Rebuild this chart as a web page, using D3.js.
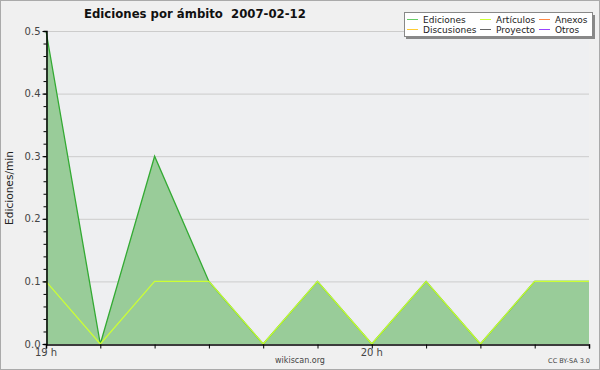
<!DOCTYPE html>
<html>
<head>
<meta charset="utf-8">
<script src="https://cdn.jsdelivr.net/npm/d3@7"></script>
<style>
  body { margin: 0; background: #fff; }
  text { font-family: "DejaVu Sans", sans-serif; }
</style>
</head>
<body>
<svg width="600" height="370"></svg>
<script>
// 10 minute buckets, 19:00 .. 20:40
var times = ["19:00", "19:10", "19:20", "19:30", "19:40", "19:50", "20:00", "20:10", "20:20", "20:30", "20:40"];
var ediciones = [0.5, 0.0, 0.3, 0.1, 0.0, 0.1, 0.0, 0.1, 0.0, 0.1, 0.1];
var articulos = [0.1, 0.0, 0.1, 0.1, 0.0, 0.1, 0.0, 0.1, 0.0, 0.1, 0.1];
var yTicks = [0.0, 0.1, 0.2, 0.3, 0.4, 0.5];
var xLabels = [["19:00", "19 h"], ["20:00", "20 h"]];
var legend = [
  {name: "Ediciones", color: "#66cc66"},
  {name: "Discusiones", color: "#ffcc33"},
  {name: "Artículos", color: "#ccff33"},
  {name: "Proyecto", color: "#666666"},
  {name: "Anexos", color: "#ff8844"},
  {name: "Otros", color: "#9944ff"}
];

var parse = d3.timeParse("%Y-%m-%d %H:%M");
function day(t) { return parse("2007-02-12 " + t); }

var margin = {top: 31, bottom: 26, left: 46, right: 11};
var width = 600, height = 370;

var svg = d3.select("svg");

svg.append("rect")
  .attr("x", 0.5).attr("y", 0.5)
  .attr("width", width - 1).attr("height", height - 1)
  .attr("fill", "#f0f0f0").attr("stroke", "#aaaaaa");

var x = d3.scaleTime()
  .domain([day(times[0]), day(times[times.length - 1])])
  .range([margin.left, width - margin.right]);

var y = d3.scaleLinear()
  .domain([0, 0.5])
  .range([height - margin.bottom, margin.top]);

svg.append("rect")
  .attr("x", x.range()[0]).attr("y", y.range()[1])
  .attr("width", x.range()[1] - x.range()[0])
  .attr("height", y.range()[0] - y.range()[1])
  .attr("fill", "#eeeff1");

// grid
svg.selectAll(".grid").data(yTicks.slice(1)).enter().append("line")
  .attr("x1", x.range()[0]).attr("x2", x.range()[1])
  .attr("y1", function(d) { return y(d) + 0.5; })
  .attr("y2", function(d) { return y(d) + 0.5; })
  .attr("stroke", "#cccccc");

var edData = times.map(function(t, i) { return {date: day(t), v: ediciones[i]}; });
var arData = times.map(function(t, i) { return {date: day(t), v: articulos[i]}; });

var area = d3.area()
  .x(function(d) { return x(d.date); })
  .y0(y(0))
  .y1(function(d) { return y(d.v); });

var line = d3.line()
  .x(function(d) { return x(d.date); })
  .y(function(d) { return y(d.v); });

svg.append("path").datum(edData)
  .attr("d", area)
  .attr("fill", "#99cc99");

svg.append("path").datum(edData)
  .attr("d", line)
  .attr("fill", "none")
  .attr("stroke", "#33aa33")
  .attr("stroke-width", 1.3);

svg.append("path").datum(arData)
  .attr("d", line)
  .attr("fill", "none")
  .attr("stroke", "#ccff33")
  .attr("stroke-width", 1.2);

// axes
var yAxis = d3.axisLeft(y)
  .tickValues(d3.range(0, 0.5001, 0.02))
  .tickSize(3)
  .tickFormat("");
var ya = svg.append("g")
  .attr("transform", "translate(" + (margin.left + 0.5) + ",0)")
  .call(yAxis);
ya.selectAll("line").attr("stroke", "#000");
ya.select(".domain").attr("stroke", "#000").attr("stroke-width", 1.5);

var yLab = d3.axisLeft(y)
  .tickValues(yTicks)
  .tickSize(4)
  .tickPadding(2)
  .tickFormat(d3.format(".1f"));
var yl = svg.append("g")
  .attr("transform", "translate(" + (margin.left + 0.5) + ",0)")
  .call(yLab);
yl.select(".domain").remove();
yl.selectAll("line").attr("stroke", "#000");
yl.selectAll("text")
  .attr("font-family", "DejaVu Sans")
  .attr("font-size", 10)
  .attr("fill", "#444")
  .attr("dy", "0.3em");

var xAxis = d3.axisBottom(x)
  .ticks(d3.timeMinute.every(10))
  .tickSize(4)
  .tickFormat("");
var xa = svg.append("g")
  .attr("transform", "translate(0," + (y(0) + 0.5) + ")")
  .call(xAxis);
xa.selectAll("line").attr("stroke", "#000");
xa.select(".domain").attr("stroke", "#000").attr("stroke-width", 1.5);

svg.selectAll(".xlab").data(xLabels).enter().append("text")
  .attr("x", function(d) { return x(day(d[0])); })
  .attr("y", y(0) + 12)
  .attr("text-anchor", "middle")
  .attr("font-size", 10)
  .attr("fill", "#444")
  .text(function(d) { return d[1]; });

// titles
svg.append("text")
  .attr("x", 84).attr("y", 18)
  .attr("font-size", 11.7)
  .attr("font-weight", "bold")
  .attr("fill", "#111")
  .attr("xml:space", "preserve")
  .style("white-space", "pre")
  .text("Ediciones por ámbito  2007-02-12");

svg.append("text")
  .attr("transform", "translate(13," + 188 + ") rotate(-90)")
  .attr("text-anchor", "middle")
  .attr("font-family", "DejaVu Sans Mono")
  .attr("font-size", 10.6)
  .attr("fill", "#222")
  .text("Ediciones/min");

svg.append("text")
  .attr("x", 300).attr("y", 363)
  .attr("text-anchor", "middle")
  .attr("font-size", 8)
  .attr("fill", "#444")
  .text("wikiscan.org");

svg.append("text")
  .attr("x", 590).attr("y", 363)
  .attr("text-anchor", "end")
  .attr("font-size", 6.5)
  .attr("fill", "#444")
  .text("CC BY-SA 3.0");

// legend
var lg = svg.append("g");
lg.append("rect")
  .attr("x", 406).attr("y", 15).attr("width", 189).attr("height", 24)
  .attr("fill", "#888");
lg.append("rect")
  .attr("x", 404.5).attr("y", 12.5).attr("width", 188).attr("height", 24)
  .attr("fill", "#fff").attr("stroke", "#888");

var colX = [407, 480, 539];
var rowY = [19, 29];
var items = lg.selectAll(".item").data(legend).enter().append("g")
  .attr("transform", function(d, i) {
    return "translate(" + colX[Math.floor(i / 2)] + "," + rowY[i % 2] + ")";
  });
items.append("line")
  .attr("x1", 0).attr("x2", 11)
  .attr("y1", 0.5).attr("y2", 0.5)
  .attr("stroke", function(d) { return d.color; });
items.append("text")
  .attr("x", 16).attr("y", 4)
  .attr("font-size", 9)
  .attr("fill", "#222")
  .text(function(d) { return d.name; });
</script>
</body>
</html>
